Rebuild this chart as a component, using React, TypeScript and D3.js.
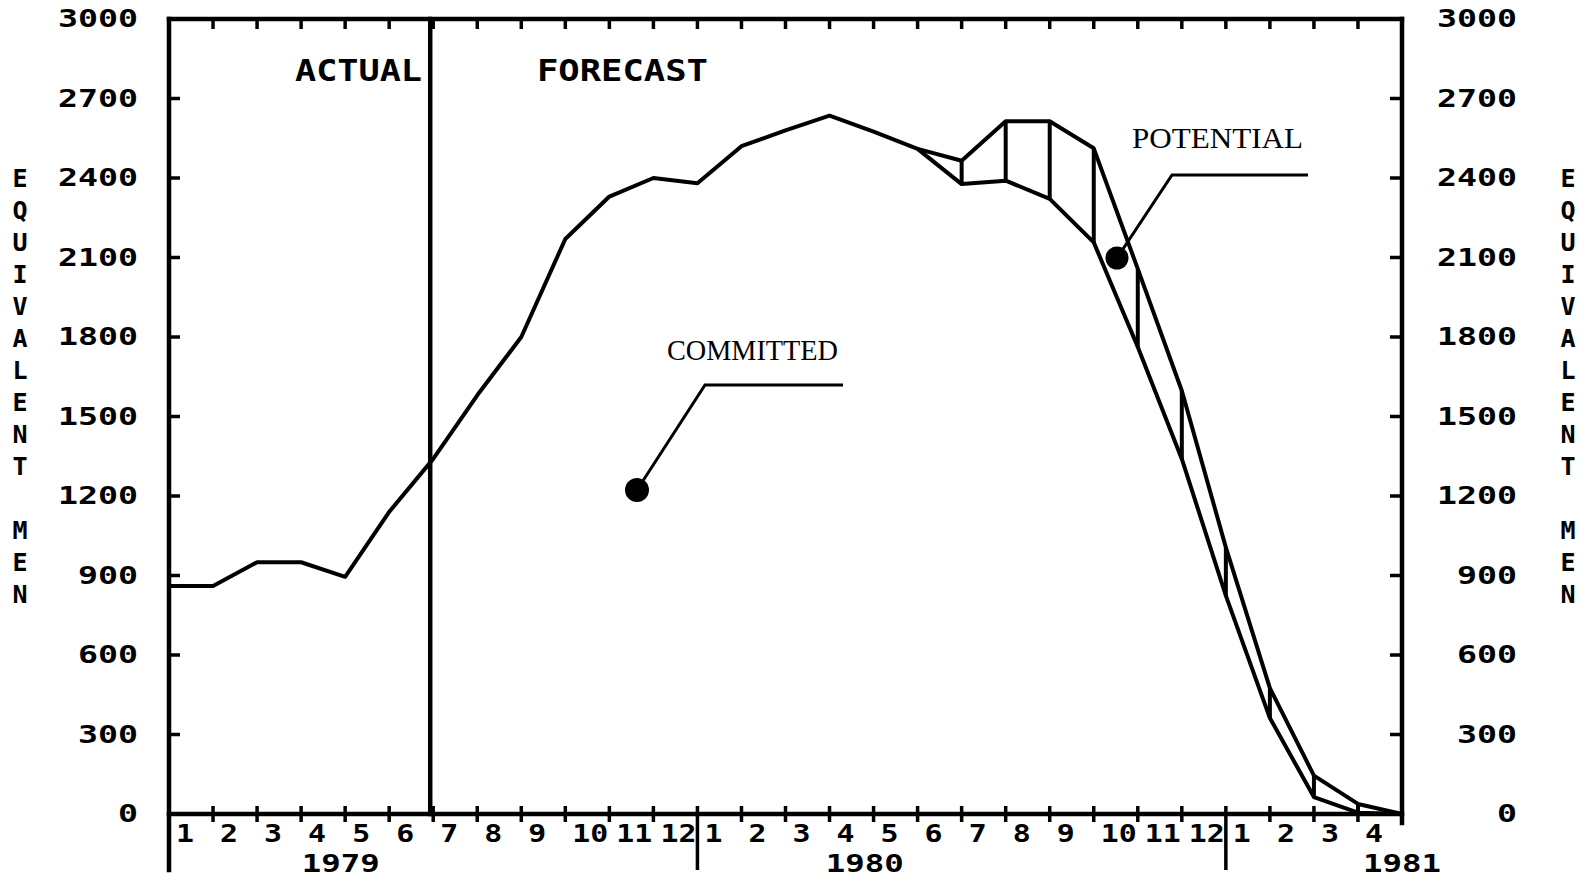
import * as d3 from "d3";

// months are counted from Jan 1979 (0) to May 1981 (28)
const monthLabels = [
  "1", "2", "3", "4", "5", "6", "7", "8", "9", "10", "11", "12",
  "1", "2", "3", "4", "5", "6", "7", "8", "9", "10", "11", "12",
  "1", "2", "3", "4",
];
const yearLabels = ["1979", "1980", "1981"];
const yearAt = [3.9, 15.8, 28];
const yTicks = [0, 300, 600, 900, 1200, 1500, 1800, 2100, 2400, 2700, 3000];

const committed = [
  860, 860, 950, 950, 895, 1140, 1340, 1580, 1800, 2170, 2330, 2400,
  2380, 2520, 2580, 2635, 2575, 2510, 2377, 2390, 2321, 2157, 1762, 1340,
  824, 362, 64, 5, 0,
];
const potentialStart = 17;
const potential = [2510, 2465, 2614, 2614, 2512, 2057, 1597, 1006, 475, 145, 38, 0];

const forecastFrom = 6; // July 1979
const axisTitle = "EQUIVALENT MEN";

const W = 1590;
const H = 883;

const mono = {
  fontFamily: "'DejaVu Sans Mono', monospace",
  fontWeight: "bold" as const,
};
const serif = { fontFamily: "'Liberation Serif', serif" };

export default function App() {
  const x = d3.scaleLinear().domain([0, 28]).range([169, 1402]);
  const y = d3.scaleLinear().domain([0, 3000]).range([814, 19]);

  const [x0, x1] = x.range();
  const [y0, y1] = y.range();

  const line = d3
    .line<[number, number]>()
    .x((d) => x(d[0]))
    .y((d) => y(d[1]));

  const committedPts = committed.map((v, i) => [i, v] as [number, number]);
  const potentialPts = potential.map(
    (v, i) => [potentialStart + i, v] as [number, number]
  );

  const bounds = d3.range(1, 28);

  return (
    <svg
      width={W}
      height={H}
      style={{ position: "absolute", left: 0, top: 0, background: "#fff" }}
    >
      {/* frame */}
      <g stroke="#000" strokeWidth={4.5} fill="none" strokeLinecap="square">
        <line x1={x0} x2={x1} y1={y1} y2={y1} />
        <line x1={x0} x2={x1} y1={y0} y2={y0} />
        <line x1={x0} x2={x0} y1={y1} y2={870} />
        <line x1={x1} x2={x1} y1={y1} y2={823} />
        <line
          x1={x(forecastFrom) - 3}
          x2={x(forecastFrom) - 3}
          y1={y1}
          y2={y0}
        />
      </g>

      {/* ticks */}
      <g stroke="#000" strokeWidth={3.5}>
        {yTicks.slice(1, -1).map((t) => (
          <g key={t}>
            <line x1={x0} x2={x0 + 11} y1={y(t)} y2={y(t)} />
            <line x1={x1} x2={x1 - 12} y1={y(t)} y2={y(t)} />
          </g>
        ))}
        {bounds.map((b) => (
          <g key={b}>
            <line x1={x(b)} x2={x(b)} y1={y1} y2={y1 + 10} />
            <line
              x1={x(b)}
              x2={x(b)}
              y1={y0 - 8}
              y2={b % 12 === 0 ? 870 : y0 + 8}
            />
          </g>
        ))}
      </g>

      {/* y tick labels */}
      <g {...mono} fontSize={24} fill="#000">
        {yTicks.map((t) => (
          <g key={t}>
            <text
              x={138}
              y={y(t)}
              textAnchor="end"
              dominantBaseline="central"
              textLength={String(t).length * 20}
              lengthAdjust="spacingAndGlyphs"
            >
              {t}
            </text>
            <text
              x={1517}
              y={y(t)}
              textAnchor="end"
              dominantBaseline="central"
              textLength={String(t).length * 20}
              lengthAdjust="spacingAndGlyphs"
            >
              {t}
            </text>
          </g>
        ))}
      </g>

      {/* month and year labels */}
      <g {...mono} fontSize={24} fill="#000">
        {monthLabels.map((m, i) => (
          <text
            key={i}
            x={x(i) + 7}
            y={834}
            dominantBaseline="central"
            textLength={m.length * 18}
            lengthAdjust="spacingAndGlyphs"
          >
            {m}
          </text>
        ))}
        {yearLabels.map((yl, i) => (
          <text
            key={yl}
            x={x(yearAt[i])}
            y={864}
            textAnchor="middle"
            dominantBaseline="central"
            textLength={78}
            lengthAdjust="spacingAndGlyphs"
          >
            {yl}
          </text>
        ))}
      </g>

      {/* axis titles, letters stacked */}
      <g {...mono} fontSize={25} fill="#000" textAnchor="middle">
        {axisTitle.split("").map((c, i) => (
          <g key={i}>
            <text x={20} y={178 + i * 32} dominantBaseline="central">
              {c}
            </text>
            <text x={1568} y={178 + i * 32} dominantBaseline="central">
              {c}
            </text>
          </g>
        ))}
      </g>

      {/* section headers */}
      <g {...mono} fontSize={31} fill="#000">
        <text
          x={295}
          y={70}
          dominantBaseline="central"
          textLength={127}
          lengthAdjust="spacingAndGlyphs"
        >
          ACTUAL
        </text>
        <text
          x={537}
          y={70}
          dominantBaseline="central"
          textLength={171}
          lengthAdjust="spacingAndGlyphs"
        >
          FORECAST
        </text>
      </g>

      {/* curves */}
      <g fill="none" stroke="#000" strokeWidth={4} strokeLinejoin="round">
        <path d={line(committedPts) ?? ""} />
        <path d={line(potentialPts) ?? ""} />
        {potentialPts.slice(1, -1).map(([m, v]) => (
          <line
            key={m}
            x1={x(m)}
            x2={x(m)}
            y1={y(v)}
            y2={y(committed[m])}
          />
        ))}
      </g>

      {/* callouts */}
      <g {...serif} fontSize={30} fill="#000">
        <text
          x={667}
          y={349}
          dominantBaseline="central"
          textLength={171}
          lengthAdjust="spacingAndGlyphs"
        >
          COMMITTED
        </text>
        <text
          x={1132}
          y={137}
          dominantBaseline="central"
          textLength={171}
          lengthAdjust="spacingAndGlyphs"
        >
          POTENTIAL
        </text>
      </g>
      <g stroke="#000" strokeWidth={3} fill="none">
        <polyline points="843,385 705,385 637,490" />
        <polyline points="1308,175 1172,175 1117,258" />
      </g>
      <circle cx={637} cy={490} r={12} fill="#000" />
      <circle cx={1117} cy={258} r={11.5} fill="#000" />
    </svg>
  );
}
